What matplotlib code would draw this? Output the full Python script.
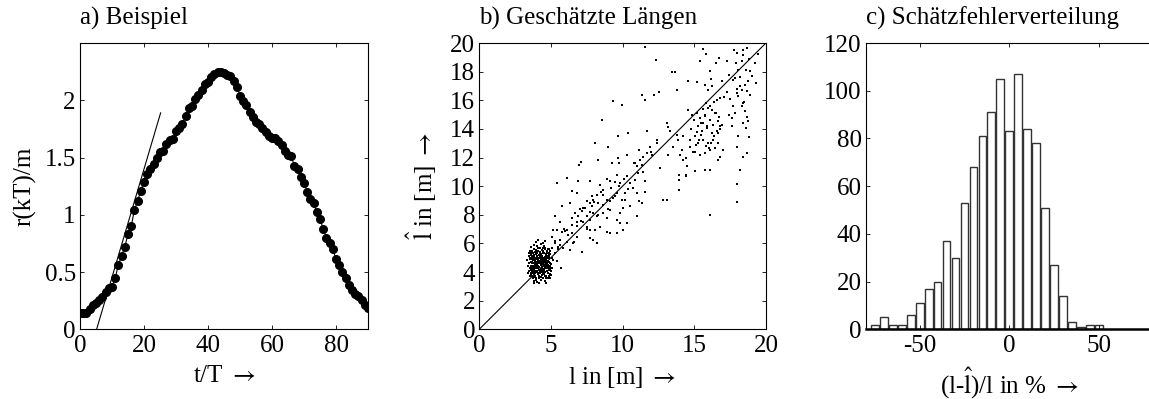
import numpy as np
import matplotlib
matplotlib.use('Agg')
import matplotlib.pyplot as plt

plt.rcParams['font.family'] = ['Liberation Serif', 'DejaVu Serif']
plt.rcParams['font.size'] = 18
plt.rcParams['axes.unicode_minus'] = False

ARROW = r'$\rightarrow$'

# a) Beispiel: r(kT)/m fuer k = 0..90
t_steps = list(range(0, 91))
r_vals = [0.14, 0.14, 0.14, 0.18, 0.21, 0.23, 0.26, 0.28, 0.33, 0.36,
          0.37, 0.45, 0.56, 0.64, 0.72, 0.83, 0.90, 1.04, 1.12, 1.21,
          1.29, 1.36, 1.40, 1.44, 1.50, 1.55, 1.56, 1.62, 1.65, 1.66,
          1.73, 1.76, 1.79, 1.86, 1.93, 1.95, 2.01, 2.05, 2.09, 2.14,
          2.16, 2.20, 2.23, 2.245, 2.245, 2.24, 2.22, 2.21, 2.17, 2.12,
          2.04, 1.99, 1.96, 1.90, 1.85, 1.81, 1.79, 1.76, 1.72, 1.69,
          1.67, 1.67, 1.64, 1.61, 1.56, 1.52, 1.51, 1.43, 1.40, 1.33,
          1.28, 1.20, 1.14, 1.10, 1.02, 0.96, 0.88, 0.80, 0.75, 0.70,
          0.61, 0.56, 0.50, 0.45, 0.39, 0.34, 0.31, 0.29, 0.26, 0.21,
          0.19]
tangent_t = [5.2, 25.2]
tangent_r = [0.0, 1.89]

# b) Geschaetzte Laengen: wahre Laenge l, Schaetzung l_hat
l_true = [11.56, 12.30, 15.63, 15.98, 15.81, 15.40, 16.49, 16.74, 17.30, 17.77,
          17.95, 18.30, 18.37, 18.70, 18.42, 19.23, 19.42, 18.88, 19.00, 19.28,
          18.07, 18.19, 17.84, 17.44, 16.91, 16.09, 16.14, 15.74, 15.98, 16.21,
          15.16, 14.58, 13.81, 13.42, 13.65, 11.37, 11.56, 12.21, 12.53, 9.35,
          9.98, 16.56, 16.79, 17.49, 17.95, 18.07, 18.30, 18.42, 18.65, 18.72,
          18.53, 17.72, 17.84, 18.53, 18.65, 18.77, 18.42, 18.60, 17.63, 18.02,
          18.79, 17.95, 18.42, 18.70, 18.19, 17.95, 17.95, 16.09,
          14.58, 14.81, 15.16, 15.40, 15.74, 15.81, 15.98, 16.21, 16.44, 16.09,
          15.63, 15.28, 15.86, 16.33, 16.67, 16.79, 16.56, 16.21, 15.51, 15.05,
          14.70, 14.23, 13.88, 13.53, 14.12, 14.70, 14.93, 15.28, 15.63, 15.98,
          16.33, 16.67, 16.44, 16.09, 15.74, 15.40, 15.05, 16.79, 16.67, 14.00,
          14.23, 14.47, 15.05, 15.74, 16.09, 13.93, 13.95, 14.42, 14.42, 13.95,
          12.84, 13.07, 13.30, 13.07, 13.19, 12.37, 12.37, 11.91, 11.67, 12.02,
          11.44, 11.21, 11.33, 10.98, 11.09, 10.86, 11.56, 10.51, 10.74, 10.98,
          11.56, 11.16, 10.98, 10.28, 10.33, 10.35, 9.70, 9.70, 9.77, 9.23,
          9.00, 8.30, 8.07, 8.53, 7.07, 6.98, 6.09, 5.40, 6.91, 6.44,
          6.79, 6.33, 5.74, 7.72, 8.42, 8.88, 9.12, 9.47, 9.77, 8.65,
          8.19, 7.84, 7.49, 7.95, 8.30, 8.65, 9.12, 9.35, 9.58, 9.93,
          10.16, 10.51, 10.05, 9.81, 9.12, 8.65, 8.88, 9.58, 9.81, 10.28,
          8.88, 9.12, 8.42, 8.07, 7.72, 7.95, 8.19, 7.72, 7.49, 7.26,
          6.91, 6.67, 7.14, 7.49, 7.72, 8.19, 6.79, 6.44, 6.09, 5.63,
          5.28, 5.40, 5.74, 6.44, 6.79, 6.56, 6.33, 7.14, 6.09, 5.63,
          5.86, 5.51, 5.28, 5.05, 5.12, 5.28, 5.16, 5.70, 4.93, 5.40,
          7.72, 7.21, 7.95, 11.33, 10.05, 9.58, 11.67, 11.16, 10.86,
          5.3, 5.6, 5.9, 6.2, 6.5, 6.8, 7.1, 7.4, 7.7, 8.0,
          8.3, 8.6, 8.9, 9.2, 9.5, 9.8, 10.1, 10.4,
          5.5, 6.0, 6.6, 7.0, 7.5, 7.9, 8.5, 9.0, 9.6, 10.2,
          10.8, 11.4, 12.0, 12.6, 13.2, 13.8, 14.4, 15.0,
          15.3, 15.6, 15.9, 16.2, 16.5, 16.8, 17.1, 17.4, 17.7, 18.0,
          18.3, 18.6, 18.9,
          15.2, 15.5, 15.8, 16.1, 16.4, 16.7, 17.0, 17.3, 17.6, 17.9,
          18.2, 18.5, 18.8,
          14.8, 15.1, 15.45, 15.75, 16.05, 16.35, 16.65, 16.95]
l_hat = [19.70, 18.81, 19.60, 20.00, 19.25, 18.72, 18.60, 18.95, 18.76, 19.53,
         19.30, 18.76, 19.18, 19.63, 19.53, 18.60, 19.23, 18.07, 17.72, 17.20,
         18.14, 17.62, 17.55, 17.79, 17.32, 18.02, 17.51, 17.09, 16.74, 16.97,
         17.25, 17.34, 16.69, 17.95, 17.95, 16.39, 16.04, 16.34, 16.57, 15.92,
         15.66, 16.04, 16.15, 16.08, 16.50, 16.27, 16.74, 15.80, 16.62, 17.32,
         17.09, 15.57, 15.10, 15.22, 14.83, 14.52, 14.41, 14.06, 14.76, 13.47,
         13.40, 12.77, 12.07, 12.31, 11.14, 10.16, 8.88, 8.00,
         15.34, 14.99, 15.10, 14.76, 14.99, 15.80, 15.45, 15.34, 15.10, 14.64,
         14.41, 14.17, 14.06, 14.29, 14.52, 14.17, 13.82, 13.71, 13.82, 13.47,
         13.24, 13.47, 13.24, 12.77, 12.54, 12.77, 12.42, 13.01, 13.24, 13.01,
         13.24, 13.01, 12.66, 12.54, 12.31, 12.19, 12.42, 12.07, 11.84, 12.19,
         11.84, 11.38, 11.03, 11.14, 11.10, 10.79, 10.44, 10.79, 10.68, 9.74,
         9.04, 9.04, 13.82, 14.41, 14.10, 13.24, 13.01, 12.77, 12.31, 12.19,
         12.07, 11.84, 11.49, 11.38, 10.91, 10.44, 10.33, 10.21, 9.86, 9.51,
         9.56, 8.93, 7.88, 10.68, 12.19, 13.71, 13.47, 11.96, 11.61, 11.61,
         12.77, 11.84, 13.01, 14.64, 11.72, 11.49, 10.56, 10.21, 10.33, 9.63,
         9.51, 8.81, 8.58, 10.33, 10.09, 10.49, 10.33, 10.26, 9.98, 9.74,
         9.39, 9.28, 8.93, 9.04, 8.81, 8.69, 8.93, 9.16, 9.51, 9.04,
         9.04, 8.58, 8.46, 8.11, 8.34, 8.11, 7.76, 7.65, 7.41, 7.41,
         6.83, 6.71, 7.18, 6.95, 6.36, 6.25, 6.01, 6.95, 7.18, 7.53,
         7.88, 8.11, 8.23, 7.88, 7.65, 7.88, 7.53, 7.30, 6.95, 7.53,
         7.88, 6.95, 6.83, 6.71, 6.48, 6.01, 5.55, 5.43, 6.13, 6.25,
         5.66, 5.78, 6.01, 6.48, 6.95, 5.31, 4.85, 4.27, 4.38, 4.80,
         8.81, 8.46, 8.11, 8.81, 6.95, 6.71, 13.82, 12.54, 11.61,
         6.2, 5.9, 7.0, 6.6, 7.8, 7.2, 7.6, 8.5, 8.2, 8.9,
         8.0, 9.4, 9.0, 9.9, 9.3, 10.2, 10.5, 9.8,
         5.6, 6.9, 6.1, 8.4, 7.0, 8.6, 9.6, 8.4, 10.8, 9.5,
         11.6, 11.0, 12.4, 11.3, 12.2, 13.6, 12.0, 14.6,
         13.2, 15.4, 14.2, 13.0, 15.1, 14.0, 16.2, 15.0, 17.4, 16.8,
         15.6, 18.1, 16.4,
         13.8, 14.4, 12.8, 15.6, 13.5, 14.8, 12.5, 16.6, 14.2, 18.6,
         17.0, 15.9, 18.9,
         14.0, 12.9, 13.6, 14.9, 12.7, 15.9, 13.7, 14.3]

# dichter Haufen kurzer Objekte (l um 4 m)
l_short = [3.45, 3.52, 3.55, 3.58, 3.60, 3.62, 3.65, 3.66, 3.68, 3.70,
           3.72, 3.73, 3.75, 3.76, 3.78, 3.80, 3.80, 3.82, 3.84, 3.85,
           3.86, 3.88, 3.89, 3.90, 3.92, 3.93, 3.95, 3.96, 3.98, 4.00,
           4.00, 4.02, 4.04, 4.05, 4.06, 4.08, 4.10, 4.11, 4.12, 4.14,
           4.15, 4.17, 4.18, 4.20, 4.21, 4.23, 4.25, 4.26, 4.28, 4.30,
           4.31, 4.33, 4.35, 4.36, 4.38, 4.40, 4.41, 4.43, 4.45, 4.46,
           4.48, 4.50, 4.51, 4.53, 4.55, 4.56, 4.58, 4.60, 4.61, 4.63,
           4.65, 4.66, 4.68, 4.70, 4.71, 4.73, 4.75, 4.76, 4.78, 4.80,
           4.82, 4.83, 4.85, 4.86, 4.88, 4.90, 4.92, 4.95, 4.97, 5.00,
           3.50, 3.63, 3.70, 3.95, 4.10, 4.30, 4.55, 4.65, 4.20, 3.80,
           3.58, 3.68, 3.87, 3.97, 4.03, 4.13, 4.22, 4.37, 4.47, 4.57,
           4.67, 4.77, 4.87, 4.93, 3.75, 3.83, 4.45, 4.62, 5.05, 5.10,
           5.08, 3.40, 3.48,
           3.35, 3.42, 3.47, 3.53, 3.57, 3.61, 3.64, 3.67, 3.71, 3.74,
           3.77, 3.79, 3.81, 3.83, 3.86, 3.88, 3.91, 3.94, 3.97, 3.99,
           4.01, 4.03, 4.06, 4.09, 4.12, 4.16, 4.19, 4.22, 4.24, 4.27,
           4.29, 4.32, 4.34, 4.37, 4.39, 4.42, 4.44, 4.47, 4.49, 4.52,
           4.54, 4.57, 4.59, 4.62, 4.64, 4.67, 4.69, 4.72, 4.74, 4.77,
           4.79, 4.81, 4.84, 4.87, 4.89, 4.91, 4.94, 4.96, 4.99, 5.02,
           3.55, 3.62, 3.69, 3.76, 3.83, 3.90, 3.97, 4.04, 4.11, 4.18,
           4.25, 4.32, 4.39, 4.46, 4.53, 4.60, 4.67, 4.74, 4.81, 4.88,
           3.59, 3.66, 3.73, 3.80, 3.87, 3.94, 4.01, 4.08, 4.15, 4.22,
           4.29, 4.36, 4.43, 4.50, 4.57, 4.64, 4.71, 4.78, 4.85, 4.92]
l_hat_short = [4.60, 4.95, 4.30, 5.20, 3.85, 4.72, 5.45, 4.10, 4.45, 5.05,
               3.60, 4.85, 5.30, 4.20, 3.95, 4.60, 5.60, 4.35, 5.10, 3.40,
               4.80, 4.05, 5.40, 4.50, 3.75, 4.95, 5.25, 4.25, 3.55, 4.70,
               5.80, 4.00, 5.05, 4.40, 3.30, 4.85, 5.50, 3.85, 4.60, 5.20,
               4.15, 3.60, 4.95, 4.35, 5.70, 4.75, 3.95, 5.35, 4.50, 3.45,
               5.00, 4.20, 4.80, 5.55, 3.80, 4.55, 5.15, 4.05, 4.90, 6.00,
               3.60, 4.40, 5.30, 4.70, 3.90, 5.05, 4.25, 5.60, 3.40, 4.85,
               4.55, 5.25, 3.75, 4.95, 4.10, 5.45, 4.65, 3.55, 5.10, 4.30,
               3.90, 4.80, 5.35, 4.45, 3.70, 5.00, 4.20, 4.60, 5.50, 3.80,
               4.05, 5.75, 3.75, 6.10, 6.25, 5.95, 5.85, 3.20, 3.25, 3.25,
               4.45, 4.90, 4.65, 4.55, 4.90, 4.30, 5.10, 4.70, 4.20, 4.95,
               4.40, 4.75, 5.15, 3.55, 4.10, 5.90, 5.70, 6.15, 4.95, 4.30,
               5.70, 3.90, 5.35,
               4.85, 4.40, 5.10, 3.70, 4.90, 4.15, 5.35, 3.95, 4.60, 4.30,
               5.00, 3.65, 4.45, 5.20, 3.90, 4.75, 4.25, 5.55, 4.05, 3.45,
               5.30, 4.55, 4.10, 5.65, 4.45, 5.00, 3.70, 4.60, 5.40, 4.10,
               4.85, 3.65, 5.25, 4.35, 5.05, 3.95, 4.65, 5.35, 3.85, 4.95,
               4.50, 5.70, 4.00, 4.35, 5.15, 4.80, 3.55, 5.00, 4.25, 4.50,
               5.60, 3.60, 4.70, 4.15, 5.05, 4.40, 3.85, 5.25, 4.55, 4.10,
               5.50, 3.90, 4.70, 5.15, 4.20, 4.95, 5.45, 4.30, 5.00, 4.70,
               5.25, 4.00, 4.75, 5.40, 4.15, 4.90, 5.20, 4.05, 4.50, 5.25,
               4.25, 5.10, 4.40, 3.85, 4.90, 4.40, 5.15, 4.60, 3.95, 5.30,
               4.65, 4.10, 5.50, 4.85, 3.70, 4.60, 5.30, 4.35, 5.60, 4.45]

# c) Schaetzfehlerverteilung: Histogramm in 5%-Klassen
bin_centers = list(range(-75, 55, 5))
counts = [2, 5, 2, 2, 6, 11, 17, 20, 37, 30, 53, 68, 81, 91, 105, 83, 107,
          84, 78, 51, 27, 14, 3, 1, 2, 2]

fig = plt.figure(figsize=(11.49, 3.99), dpi=100)
ax1 = fig.add_axes([0.0696, 0.1747, 0.2507, 0.7175])
ax2 = fig.add_axes([0.4171, 0.1747, 0.2495, 0.7175])
ax3 = fig.add_axes([0.7537, 0.1747, 0.2493, 0.7175])

for ax in (ax1, ax2, ax3):
    ax.tick_params(direction='in', top=True, right=True, length=3, width=0.6,
                   labelsize=18)
    ax.tick_params(axis='x', pad=4)
    ax.tick_params(axis='y', pad=3)
    for s in ax.spines.values():
        s.set_linewidth(0.8)

ax1.plot(t_steps, r_vals, '-', color='black', lw=0.8, marker='o', ms=5.5)
ax1.plot(tangent_t, tangent_r, '-', color='black', lw=0.8)
ax1.set_xlim(0, 90)
ax1.set_ylim(0, 2.5)
ax1.set_xticks([0, 20, 40, 60, 80])
ax1.set_yticks([0, 0.5, 1, 1.5, 2])
ax1.set_yticklabels(['0', '0.5', '1', '1.5', '2'])
ax1.set_xlabel('t/T ' + ARROW, labelpad=6, math_fontfamily='stix')
ax1.set_ylabel('r(kT)/m', labelpad=6)
ax1.set_title('a) Beispiel', loc='left', pad=13, fontsize=18)

ax2.plot(l_true + l_short, l_hat + l_hat_short, 's', color='black', ms=2.1, mew=0)
ax2.plot([0, 20], [0, 20], '-', color='black', lw=0.8)
ax2.set_xlim(0, 20)
ax2.set_ylim(0, 20)
ax2.set_xticks([0, 5, 10, 15, 20])
ax2.set_yticks(range(0, 21, 2))
ax2.set_xlabel('l in [m] ' + ARROW, labelpad=6, math_fontfamily='stix')
ax2.set_ylabel(r'$\hat{\mathrm{l}}$ in [m] ' + ARROW, labelpad=8,
               math_fontfamily='stix')
ax2.set_title('b) Geschätzte Längen', loc='left', pad=13, fontsize=18)

ax3.bar(bin_centers, counts, width=4.3, facecolor='white', edgecolor='#333333',
        linewidth=1.0)
ax3.set_xlim(-80, 80)
ax3.set_ylim(0, 120)
ax3.set_xticks([-50, 0, 50])
ax3.set_yticks(range(0, 121, 20))
ax3.tick_params(right=False)
ax3.spines['bottom'].set_linewidth(1.8)
ax3.set_xlabel(r'(l-$\hat{\mathrm{l}}$)/l in % ' + ARROW, labelpad=6,
               math_fontfamily='stix')
ax3.set_title('c) Schätzfehlerverteilung', loc='left', pad=13, fontsize=18)

fig.savefig('out.png', dpi=100)
